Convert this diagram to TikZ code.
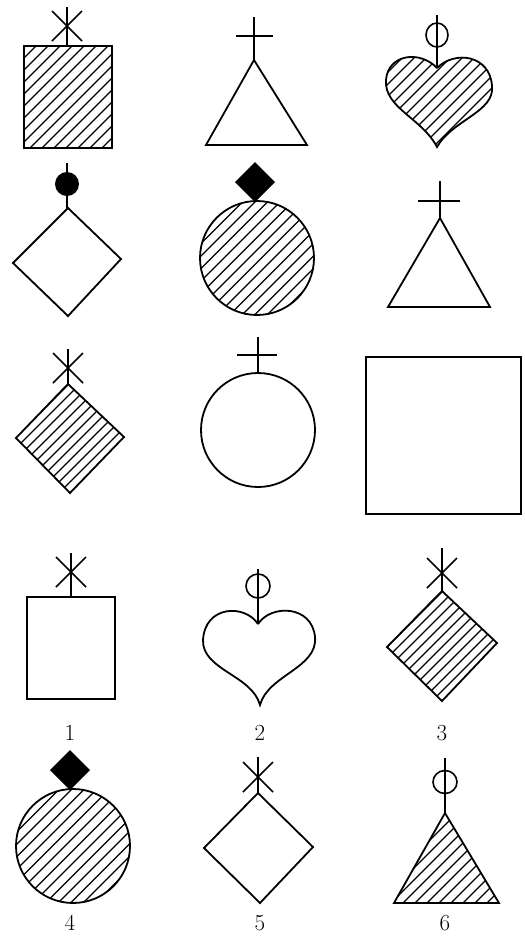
\documentclass[tikz,border=0pt]{standalone}
\usepackage{fontspec}
\setmainfont{Latin Modern Roman}
\begin{document}
\begin{tikzpicture}[x=1pt,y=-1pt,
  outl/.style={line width=1.8pt,line join=miter},
  thin/.style={line width=1.6pt},
  hatch/.style={line width=1.2pt},
  lbl/.style={font=\fontsize{23}{26}\selectfont,inner sep=0pt}]
\useasboundingbox (0,0) rectangle (525,938);
\newcommand{\hatchit}[5]{%
  \foreach \i in {0,...,#3}{\draw[hatch] ({#1+\i*#2-#4},#4) -- ({#1+\i*#2-#5},#5);}}
\newcommand{\astk}[4]{% x, ytop, ycenter, ybottom
  \draw[thin] (#1,#2) -- (#1,#4);
  \draw[thin] (#1-15,#3-15) -- (#1+15,#3+15);
  \draw[thin] (#1-15,#3+15) -- (#1+15,#3-15);}
% ---------- Row 1 ----------
% A: hatched square with asterisk
\begin{scope}\clip (24,46) rectangle (112,148); \hatchit{58}{12}{18}{40}{155}\end{scope}
\draw[outl] (24,46) rectangle (112,148);
\astk{67}{7}{26}{46}
% B: triangle with cross
\draw[outl] (254,60) -- (206,145) -- (307,145) -- cycle;
\draw[thin] (254,17) -- (254,60);
\draw[thin] (236,36) -- (273,36);
% C: hatched heart with circle
\begin{scope}
\clip (437,68) .. controls (420,50) and (388,54) .. (386,80) .. controls (384,108) and (422,118) .. (437,147) .. controls (452,120) and (495,112) .. (492,86) .. controls (490,55) and (455,50) .. (437,68);
\hatchit{436}{12}{18}{50}{150}
\end{scope}
\draw[outl] (437,68) .. controls (420,50) and (388,54) .. (386,80) .. controls (384,108) and (422,118) .. (437,147) .. controls (452,120) and (495,112) .. (492,86) .. controls (490,55) and (455,50) .. (437,68);
\draw[thin] (437,15) -- (437,68);
\draw[thin] (437,35) ellipse [x radius=11,y radius=12];
% ---------- Row 2 ----------
% D: white diamond with filled circle
\draw[outl] (68,208) -- (121,259) -- (68,316) -- (13,263) -- cycle;
\draw[thin] (67,163) -- (67,208);
\fill (67,184) circle [radius=12];
% E: hatched circle with filled diamond
\begin{scope}\clip (257,258) circle [radius=57]; \hatchit{432}{12.5}{14}{195}{320}\end{scope}
\draw[outl] (257,258) circle [radius=57];
\fill (255,162) -- (275,182) -- (255,202) -- (235,182) -- cycle;
% F: triangle with cross
\draw[outl] (440,218) -- (388,307) -- (490,307) -- cycle;
\draw[thin] (440,181) -- (440,218);
\draw[thin] (418,201) -- (460,201);
% ---------- Row 3 ----------
% G: hatched diamond with asterisk
\begin{scope}\clip (68,384) -- (124,437) -- (70,493) -- (16,438) -- cycle; \hatchit{453}{11}{10}{380}{500}\end{scope}
\draw[outl] (68,384) -- (124,437) -- (70,493) -- (16,438) -- cycle;
\astk{68}{349}{368}{384}
% H: white circle with cross
\draw[outl] (258,430) circle [radius=57];
\draw[thin] (258,337) -- (258,373);
\draw[thin] (237,355) -- (277,355);
% I: white square
\draw[outl] (366,357) rectangle (521,514);
% ---------- Row 4 ----------
% 1
\draw[outl] (27,597) rectangle (115,699);
\astk{71}{553}{572}{597}
\node[lbl] (l1) at (70,733) {1};
% 2
\draw[outl] (258,624) .. controls (245,604) and (205,605) .. (203,640) .. controls (202,670) and (252,675) .. (260,705) .. controls (268,675) and (318,668) .. (315,637) .. controls (312,605) and (271,604) .. (258,624);
\draw[thin] (258,569) -- (258,624);
\draw[thin] (258,586) circle [radius=12];
\node[lbl] (l2) at (260,733) {2};
% 3
\begin{scope}\clip (442,591) -- (497,643) -- (442,701) -- (387,647) -- cycle; \hatchit{1034}{11}{10}{585}{705}\end{scope}
\draw[outl] (442,591) -- (497,643) -- (442,701) -- (387,647) -- cycle;
\astk{442}{548}{573}{591}
\node[lbl] (l3) at (442,733) {3};
% ---------- Row 5 ----------
% 4
\begin{scope}\clip (73,846) circle [radius=57]; \hatchit{836}{12.5}{14}{785}{905}\end{scope}
\draw[outl] (73,846) circle [radius=57];
\fill (70,750) -- (90,770) -- (70,790) -- (50,770) -- cycle;
\node[lbl] (l4) at (70,923) {4};
% 5
\draw[outl] (258,793) -- (313,847) -- (260,903) -- (204,848) -- cycle;
\astk{258}{757}{777}{793}
\node[lbl] (l5) at (260,923) {5};
% 6
\begin{scope}\clip (445,813) -- (499,903) -- (394,903) -- cycle; \hatchit{1258}{12}{12}{805}{910}\end{scope}
\draw[outl] (445,813) -- (499,903) -- (394,903) -- cycle;
\draw[thin] (445,758) -- (445,813);
\draw[thin] (445,782) ellipse [x radius=12,y radius=11.5];
\node[lbl] (l6) at (445,923) {6};
\end{tikzpicture}
\end{document}
